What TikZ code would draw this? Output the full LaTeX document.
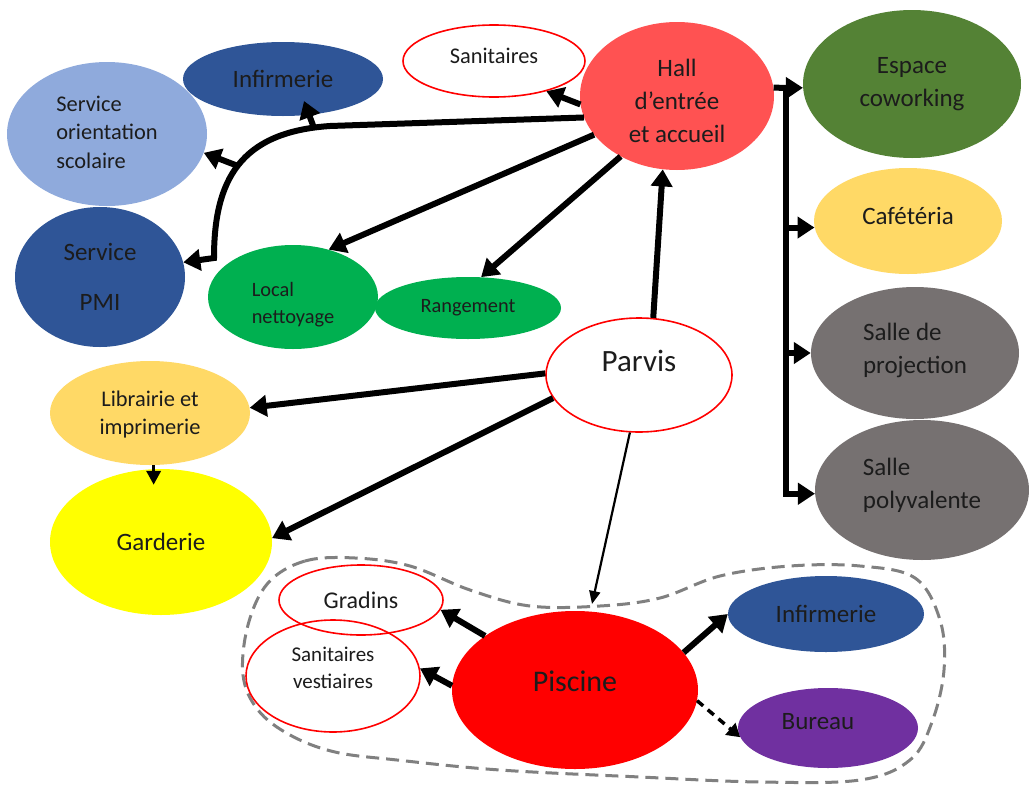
\documentclass[tikz,border=0pt]{standalone}
\usepackage{fontspec}
\setmainfont{Carlito}
\usetikzlibrary{shapes.geometric,arrows.meta,calc}
\definecolor{hallred}{HTML}{FF5252}
\definecolor{infblue}{HTML}{2F5597}
\definecolor{oriblue}{HTML}{8FAADC}
\definecolor{lgreen}{HTML}{00B050}
\definecolor{cowgreen}{HTML}{548235}
\definecolor{lyellow}{HTML}{FFD966}
\definecolor{lgrey}{HTML}{767171}
\definecolor{gyellow}{HTML}{FFFF00}
\definecolor{lpurple}{HTML}{7030A0}
\definecolor{dashgrey}{HTML}{808080}
\definecolor{txt}{HTML}{1C1C1C}
% shifted multi-line text: #1 lift (up positive), #2 column spec, #3 lines
\newcommand{\mytext}[3]{\raisebox{#1}[\height][\depth]{\begin{tabular}{@{}#2@{}}#3\end{tabular}}}
\begin{document}
\begin{tikzpicture}[x=1pt,y=-1pt,
  el/.style={ellipse,inner sep=0pt,align=center,text=txt},
  redring/.style={draw=red,line width=1.6pt},
  fbig/.style={font=\fontsize{25}{33}\selectfont},
  fmed/.style={font=\fontsize{22.4}{28.5}\selectfont},
  fsmall/.style={font=\fontsize{20.4}{27}\selectfont},
  con/.style={line width=6pt,-{Triangle[length=17pt,width=21pt]}},
  thinarrow/.style={line width=2.2pt,-{Triangle[length=13pt,width=11pt]}},
  midarrow/.style={line width=3.5pt,-{Triangle[length=14pt,width=14pt]}},
  dasharrow/.style={line width=3.5pt,dash pattern=on 8pt off 6pt,-{Triangle[length=13pt,width=15pt]}},
  groupline/.style={draw=dashgrey,line width=3pt,dash pattern=on 13pt off 7pt}
]
\useasboundingbox (0,0) rectangle (1029,785);
\fill[white] (0,0) rectangle (1029,785);

% dashed group outline
\draw[groupline] plot[smooth cycle,tension=0.6] coordinates {
 (268,583) (305,561) (355,558) (410,566) (470,590) (530,606) (600,606)
 (660,598) (720,576) (790,566) (860,566) (915,578) (940,620) (944,670)
 (932,722) (910,760) (860,780) (760,782) (640,777) (500,770) (397,760)
 (335,752) (290,735) (258,710) (243,675) (248,625)};

% nodes
\node[el,fill=infblue,minimum width=200pt,minimum height=74pt,fbig] (inf1) at (283,79) {Infirmerie};
\node[el,fill=oriblue,minimum width=200pt,minimum height=144pt,fmed] (ori) at (107,134) {\mytext{0pt}{l}{Service\\orientation\\scolaire}};
\node[el,fill=infblue,minimum width=170pt,minimum height=140pt,fbig] (pmi) at (100,277) {Service\\[17pt]PMI};
\node[el,redring,fill=white,minimum width=182pt,minimum height=72pt,fmed] (san) at (494,61) {\mytext{3pt}{c}{Sanitaires}};
\node[el,fill=hallred,minimum width=194pt,minimum height=148pt,fbig] (hall) at (677,96) {\mytext{-7pt}{c}{Hall\\d’entrée\\et accueil}};
\node[el,fill=lgreen,minimum width=170pt,minimum height=104pt,fsmall] (local) at (293,297) {\mytext{-8pt}{l}{Local\\nettoyage}};
\node[el,fill=lgreen,minimum width=186pt,minimum height=62pt,fsmall] (rang) at (468,308) {Rangement};
\node[el,redring,fill=white,minimum width=186pt,minimum height=114pt,font=\fontsize{31}{36}\selectfont] (parvis) at (639,375) {\mytext{11pt}{c}{Parvis}};
\node[el,fill=cowgreen,minimum width=218pt,minimum height=148pt,fbig] (cow) at (912,84) {\mytext{1pt}{c}{Espace\\coworking}};
\node[el,fill=lyellow,minimum width=188pt,minimum height=106pt,fbig] (caf) at (908,221) {\mytext{3pt}{c}{Cafétéria}};
\node[el,fill=lgrey,minimum width=208pt,minimum height=132pt,fbig] (proj) at (915,353) {\mytext{3pt}{l}{Salle de\\projection}};
\node[el,fill=lgrey,minimum width=214pt,minimum height=140pt,fbig] (poly) at (922,490) {\mytext{5pt}{l}{Salle\\polyvalente}};
\node[el,fill=lyellow,minimum width=200pt,minimum height=104pt,fmed] (lib) at (150,413) {\mytext{-2pt}{c}{Librairie et\\imprimerie}};
\node[el,fill=gyellow,minimum width=222pt,minimum height=146pt,fbig] (gard) at (161,542) {Garderie};
\node[el,redring,minimum width=164pt,minimum height=70pt,font=\fontsize{24}{30}\selectfont] (grad) at (361,600) {Gradins};
\node[el,redring,minimum width=174pt,minimum height=112pt,font=\fontsize{21}{27}\selectfont] (sanv) at (333,676) {\mytext{6pt}{c}{Sanitaires\\vestiaires}};
\node[el,fill=red,minimum width=246pt,minimum height=158pt,font=\fontsize{30}{36}\selectfont] (pisc) at (575,690) {\mytext{6pt}{c}{Piscine}};
\node[el,fill=infblue,minimum width=196pt,minimum height=76pt,fbig] (inf2) at (826,614) {Infirmerie};
\node[el,fill=lpurple,minimum width=180pt,minimum height=80pt,fbig] (bur) at (828,728) {\mytext{5pt}{c}{Bureau\hspace*{20pt}}};

% helper coordinates
\coordinate (c1) at (330,126);
\coordinate (c2) at (214,258);
\coordinate (br1) at (314,128);
\coordinate (br2) at (238,166);
\coordinate (bt) at (786,88);
\coordinate (grp) at (592,604);

% hall connectors
\draw[con] (hall.185) -- (san.330);
\draw[con] (hall.193) -- (c1) .. controls (240,132) and (214,180) .. (c2) -- (pmi.10);
\draw[con] (br1) -- ($(inf1.center)+(21,22)$);
\draw[con] (br2) -- (ori.349);
\draw[con] (hall.205) -- (local.53);
\draw[con] (hall.227) -- (rang.67);
\draw[con] (parvis.76) -- (hall.259);

% bracket
\draw[con] (hall.5) -- (bt) -- (cow.182);
\draw[con] (bt) -- (bt |- poly.182) -- (poly.182);
\draw[con] (bt |- caf.184) -- (caf.184);
\draw[con] (bt |- proj.west) -- (proj.west);

% parvis connectors
\draw[con] (parvis.179) -- (lib.3);
\draw[con] (parvis.195) -- (gard.2);
\draw[midarrow] (lib.274) -- ($(lib.274 |- gard.north)+(0,16)$);
\draw[thinarrow] (parvis.261) -- (grp);

% piscine connectors
\draw[con] (pisc.149) -- (grad.353);
\draw[con] (pisc.178) -- (sanv.5);
\draw[con] (pisc.19) -- (inf2.180);
\draw[dasharrow] (pisc.355) -- (bur.186);
\end{tikzpicture}
\end{document}
